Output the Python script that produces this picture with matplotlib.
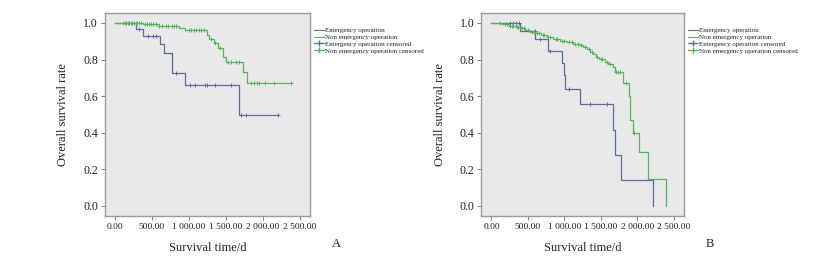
import matplotlib
matplotlib.use("Agg")
import matplotlib.pyplot as plt
from matplotlib.lines import Line2D
import numpy as np

# Kaplan-Meier step data (time in days, survival after each drop)
a_emerg_t = [0, 289, 378, 603, 657, 774, 941, 1674, 2209]
a_emerg_s = [1.0, 0.967, 0.929, 0.883, 0.834, 0.725, 0.661, 0.497, 0.497]
a_emerg_cens = [330, 441, 509, 559, 819, 1008, 1076, 1211, 1242, 1359, 1571, 1705, 1773, 2209]

a_non_t = [0, 378, 600, 860, 940, 1247, 1278, 1336, 1390, 1458, 1503, 1727, 1787, 2380]
a_non_s = [1.0, 0.992, 0.985, 0.975, 0.962, 0.934, 0.911, 0.889, 0.862, 0.816, 0.785,
           0.731, 0.670, 0.670]
a_non_cens = [110, 130, 150, 170, 190, 210, 230, 260, 280, 300, 320, 350, 400, 430, 460,
              490, 520, 560, 600, 640, 690, 720, 770, 800, 830, 1000, 1030, 1070, 1100,
              1130, 1160, 1200, 1300, 1350, 1420, 1525, 1571, 1638, 1683, 1841, 1885,
              1922, 1953, 2030, 2155, 2380]

b_emerg_t = [0, 388, 600, 777, 960, 990, 1005, 1211, 1668, 1691, 1769, 2208]
b_emerg_s = [1.0, 0.957, 0.912, 0.847, 0.780, 0.713, 0.640, 0.557, 0.415, 0.277, 0.140, 0.0]
b_emerg_cens = [260, 297, 343, 379, 594, 662, 800, 1065, 1348, 1577]

b_non_t = [0, 150, 240, 330, 400, 460, 530, 600, 680, 760, 850, 940, 1030, 1120, 1210,
           1260, 1310, 1350, 1395, 1430, 1480, 1560, 1600, 1660, 1690, 1797, 1880, 1895,
           1905, 1943, 2025, 2149, 2391]
b_non_s = [1.0, 0.992, 0.985, 0.978, 0.970, 0.962, 0.952, 0.943, 0.933, 0.922, 0.914,
           0.902, 0.894, 0.886, 0.878, 0.868, 0.855, 0.843, 0.830, 0.815, 0.803, 0.789,
           0.777, 0.760, 0.731, 0.673, 0.600, 0.535, 0.470, 0.397, 0.296, 0.149, 0.0]
b_non_cens = [120, 180, 210, 260, 280, 300, 350, 370, 420, 440, 500, 560, 580, 620, 650,
              700, 720, 780, 800, 880, 900, 960, 1000, 1060, 1100, 1150, 1180, 1230, 1280,
              1330, 1380, 1450, 1500, 1520, 1580, 1620, 1700, 1730, 1760, 1840, 1960]

x_ticks = [0, 500, 1000, 1500, 2000, 2500]
x_tick_labels = ["0.00", "500.00", "1 000.00", "1 500.00", "2 000.00", "2 500.00"]
y_ticks = [0.0, 0.2, 0.4, 0.6, 0.8, 1.0]
legend_labels = ["Emergency operation", "Non emergency operation",
                 "Emergency operation censored", "Non emergency operation censored"]

BLUE = "#5f6d9c"
GREEN = "#55b560"
TXT = "#1e1e28"

plt.rcParams['font.family'] = ['Liberation Serif', 'DejaVu Serif']


# Look up the survival level at time t for a step curve
def level_at(t, times, surv):
    idx = np.searchsorted(times, t, side='right') - 1
    return surv[max(idx, 0)]


def draw_panel(ax, curves, letter):
    ax.set_facecolor("#e9e9ea")
    for times, surv, cens, col in curves:
        ax.step(times, surv, where='post', color=col, lw=0.9)
        cy = [level_at(c, times, surv) for c in cens]
        ax.plot(cens, cy, linestyle='none', marker='+', color=col, ms=3.5, mew=0.7)

    ax.set_xlim(-137, 2637)
    ax.set_ylim(-0.055, 1.055)
    ax.set_xticks(x_ticks)
    ax.set_xticklabels(x_tick_labels, fontsize=6.8, color=TXT)
    ax.set_yticks(y_ticks)
    ax.set_yticklabels(["%.1f" % v for v in y_ticks], fontsize=8.5, color=TXT)
    ax.tick_params(length=3, width=0.6, color="#666666", pad=2)
    for sp in ax.spines.values():
        sp.set_color("#9a9a9a")
        sp.set_linewidth(1.0)
    ax.set_xlabel("Survival time/d", fontsize=9, color=TXT, labelpad=8)
    ax.set_ylabel("Overall survival rate", fontsize=9, color=TXT, labelpad=10)

    handles = [Line2D([], [], color=BLUE, lw=0.8),
               Line2D([], [], color=GREEN, lw=0.8),
               Line2D([], [], color=BLUE, lw=0.8, marker='+', ms=4),
               Line2D([], [], color=GREEN, lw=0.8, marker='+', ms=4)]
    leg = ax.legend(handles, legend_labels, loc='upper left', bbox_to_anchor=(1.0, 0.95),
                    frameon=False, fontsize=5, handlelength=1.4, handletextpad=0.2,
                    labelspacing=0.15, borderaxespad=0.2)
    for t in leg.get_texts():
        t.set_color(TXT)

    ax.text(1.13, -0.14, letter, transform=ax.transAxes, fontsize=9, color=TXT,
            ha='center', va='center')


fig = plt.figure(figsize=(8.33, 2.58), dpi=100)
ax_a = fig.add_axes([0.126, 0.163, 0.246, 0.787])
ax_b = fig.add_axes([0.578, 0.163, 0.243, 0.787])

draw_panel(ax_a, [(a_emerg_t, a_emerg_s, a_emerg_cens, BLUE),
                  (a_non_t, a_non_s, a_non_cens, GREEN)], "A")
draw_panel(ax_b, [(b_emerg_t, b_emerg_s, b_emerg_cens, BLUE),
                  (b_non_t, b_non_s, b_non_cens, GREEN)], "B")

fig.savefig("out.png", dpi=100, facecolor="white")
